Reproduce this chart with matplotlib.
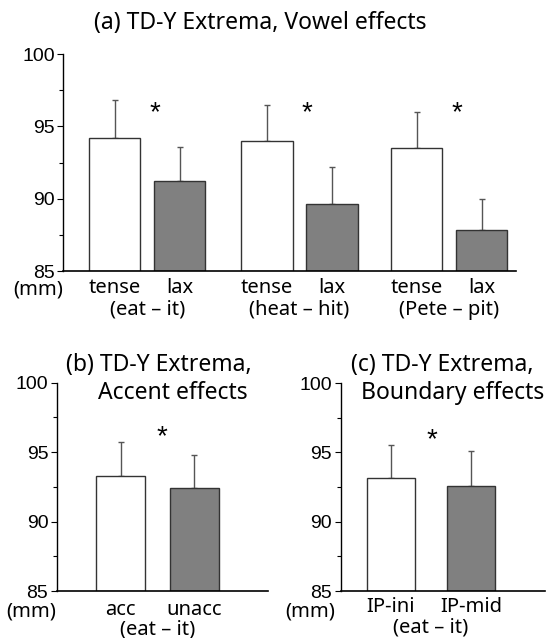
import matplotlib
matplotlib.use("Agg")
import matplotlib.pyplot as plt
import matplotlib.transforms as mtransforms

W, H = 547, 638

# ---- data (mm) ----
vowel_labels = ["tense", "lax", "tense", "lax", "tense", "lax"]
vowel_groups = ["(eat \u2013 it)", "(heat \u2013 hit)", "(Pete \u2013 pit)"]
vowel_means = [94.2, 91.2, 94.0, 89.6, 93.5, 87.8]
vowel_err = [2.6, 2.4, 2.5, 2.6, 2.5, 2.2]

accent_labels = ["acc", "unacc"]
accent_groups = ["(eat \u2013 it)"]
accent_means = [93.3, 92.4]
accent_err = [2.4, 2.4]

bound_labels = ["IP-ini", "IP-mid"]
bound_groups = ["(eat \u2013 it)"]
bound_means = [93.15, 92.6]
bound_err = [2.4, 2.5]

TEXT_FONT = ["Noto Sans", "DejaVu Sans"]
NUM_FONT = ["Liberation Sans", "DejaVu Sans"]
FILLS = ["white", "#808080"]
TITLE_SIZE = 16.5


def px_rect(left, top, right, bottom):
    # pixel box -> figure fraction rect
    return [left / W, 1 - bottom / H, (right - left) / W, (bottom - top) / H]


def fy(y):
    return 1 - y / H


def draw_panel(fig, rect, xpos, xlim, means, errs, labels, group_x, groups,
               star_x, star_y, label_y, group_y, mm_x, mm_y):
    ax = fig.add_axes(rect)
    colors = [FILLS[i % 2] for i in range(len(means))]
    ax.bar(xpos, [m - 85 for m in means], bottom=85, width=1.0, color=colors,
           edgecolor="#333333", linewidth=1.0, zorder=2)
    ax.errorbar(xpos, means, yerr=[[0] * len(errs), errs], fmt="none",
                ecolor="#555555", elinewidth=1.0, capsize=2.5, capthick=1.0, zorder=1)
    ax.set_xlim(*xlim)
    ax.set_ylim(85, 100)
    ax.set_yticks([85, 90, 95, 100])
    ax.set_yticks([87.5, 92.5, 97.5], minor=True)
    for lab in ax.get_yticklabels():
        lab.set_fontfamily(NUM_FONT)
    ax.tick_params(axis="y", which="major", length=4, width=0.8, pad=2, labelsize=14, colors="black")
    ax.tick_params(axis="y", which="minor", length=3, width=0.8)
    ax.set_xticks([])
    for s in ["top", "right"]:
        ax.spines[s].set_visible(False)
    ax.spines["left"].set_linewidth(1.0)
    ax.spines["bottom"].set_linewidth(1.2)

    trans = mtransforms.blended_transform_factory(ax.transData, fig.transFigure)
    for x, lab in zip(xpos, labels):
        ax.text(x, fy(label_y), lab, transform=trans, ha="center", va="center",
                fontsize=14.5, family=TEXT_FONT)
    for x, g in zip(group_x, groups):
        ax.text(x, fy(group_y), g, transform=trans, ha="center", va="center",
                fontsize=14.5, family=TEXT_FONT)
    for sx in star_x:
        ax.text(sx, star_y, "*", ha="center", va="center", fontsize=20,
                family=NUM_FONT)
    fig.text(mm_x / W, fy(mm_y), "(mm)", ha="center", va="center", fontsize=14.5,
             family=TEXT_FONT)
    return ax


fig = plt.figure(figsize=(W / 100, H / 100), dpi=100)

# (a) vowel effects
gc = [1.635, 4.595, 7.5]
xa = []
for g in gc:
    xa += [g - 0.63, g + 0.63]
draw_panel(fig, px_rect(63, 54, 516, 271), xa, (0, 8.8), vowel_means, vowel_err,
           vowel_labels, gc, vowel_groups, [g + 0.15 for g in gc], 95.9,
           288, 310, 38, 290)
fig.text(260 / W, fy(23), "(a) TD-Y Extrema, Vowel effects", ha="center", va="center",
         fontsize=TITLE_SIZE, family=TEXT_FONT)

# (b) accent effects
xb = [1.29, 2.78]
draw_panel(fig, px_rect(56.7, 382.7, 268, 591), xb, (0, 4.27), accent_means, accent_err,
           accent_labels, [sum(xb) / 2], accent_groups, [2.12], 96.1,
           610, 630, 31, 612)
fig.text(159 / W, fy(365), "(b) TD-Y Extrema,", ha="center", va="center",
         fontsize=TITLE_SIZE, family=TEXT_FONT)
fig.text(172.5 / W, fy(393), "Accent effects", ha="center", va="center",
         fontsize=TITLE_SIZE, family=TEXT_FONT)

# (c) boundary effects
xc = [1.04, 2.70]
draw_panel(fig, px_rect(340.5, 383, 545, 591), xc, (0, 4.23), bound_means, bound_err,
           bound_labels, [sum(xc) / 2], bound_groups, [1.89], 95.9,
           607, 628, 310, 611)
fig.text(442.5 / W, fy(365), "(c) TD-Y Extrema,", ha="center", va="center",
         fontsize=TITLE_SIZE, family=TEXT_FONT)
fig.text(452.5 / W, fy(393), "Boundary effects", ha="center", va="center",
         fontsize=TITLE_SIZE, family=TEXT_FONT)

fig.savefig("out.png", dpi=100)
